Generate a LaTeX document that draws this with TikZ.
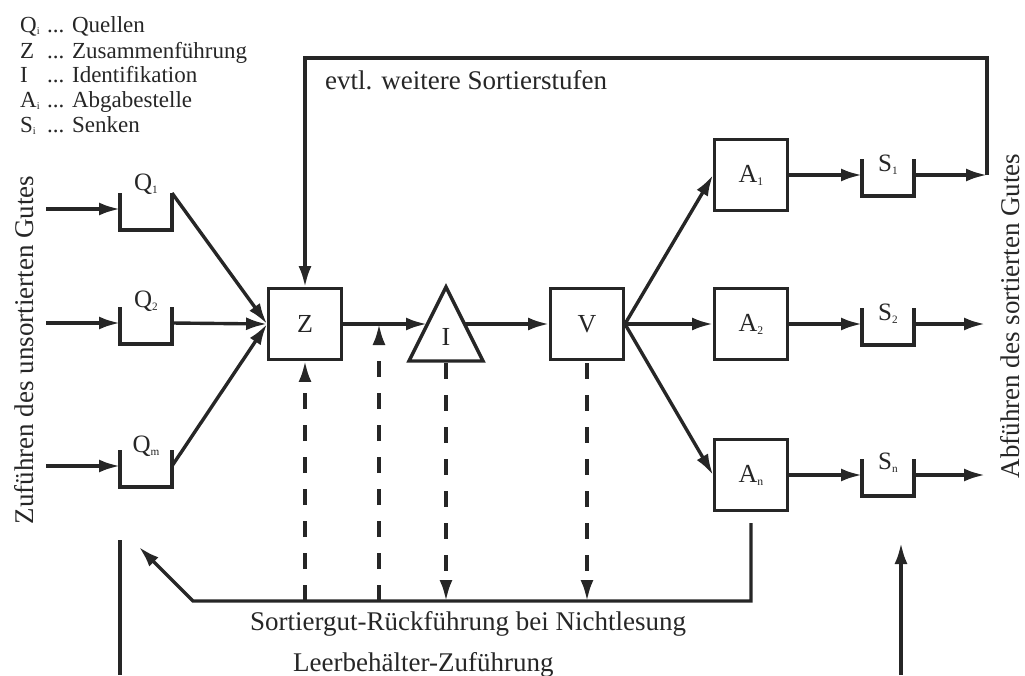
\documentclass[tikz,border=0pt]{standalone}
\usepackage{fontspec}
\setmainfont{Liberation Serif}
\usetikzlibrary{arrows.meta}
\definecolor{ink}{HTML}{262626}
\newcommand{\mainY}{324}
\newcommand{\retY}{601}
\newcommand{\topY}{58}
% small index letters (A_1, Q_i, ...)
\newcommand{\idx}[1]{\raisebox{-0.12em}{\scalebox{0.45}{#1}}}
% open bin: name, left x, top y, label, label offset
\newcommand{\bin}[5]{%
  \draw[line] (#2,#3) -- (#2,#3+37) -- (#2+52,#3+37) -- (#2+52,#3);
  \node[lbl,anchor=base] (#1) at (#2+26,#3+#5) {#4};
  \coordinate (#1-in) at (#2,#3+16);
  \coordinate (#1-out) at (#2+52,#3+16);
  \coordinate (#1-tr) at (#2+52,#3);
}

\begin{document}
\begin{tikzpicture}[x=1pt,y=-1pt,
    line/.style={draw=ink,line width=3.4pt},
    arr/.style={line,-{Latex[length=21pt,width=13pt]}},
    dashline/.style={arr,dash pattern=on 16pt off 16pt},
    box/.style={draw=ink,line width=3.4pt,minimum width=72.5pt,minimum height=70.5pt,
      inner sep=0pt,text=ink,font=\fontsize{26}{30}\selectfont},
    lbl/.style={text=ink,font=\fontsize{25}{28}\selectfont,inner sep=0pt},
    big/.style={text=ink,font=\fontsize{27}{32}\selectfont,inner sep=0pt},
    legend/.style={text=ink,font=\fontsize{23}{25}\selectfont,inner sep=0pt,anchor=base west}]

    \useasboundingbox (0,0) rectangle (1025,675);

    % Legend
    \node[legend] (lgQ) at (20,32) {\makebox[27pt][l]{Q\idx{i}}... Quellen};
    \node[legend] (lgZ) at (20,58) {\makebox[27pt][l]{Z}... Zusammenführung};
    \node[legend] (lgI) at (20,82) {\makebox[27pt][l]{I}... Identifikation};
    \node[legend] (lgA) at (20,107) {\makebox[27pt][l]{A\idx{i}}... Abgabestelle};
    \node[legend] (lgS) at (20,132) {\makebox[27pt][l]{S\idx{i}}... Senken};

    % Side texts
    \node[big,rotate=90] (feed) at (24,350) {Zuführen des unsortierten Gutes};
    \node[big,rotate=90] (drain) at (1010,316) {Abführen des sortierten Gutes};

    % Sources and sinks
    \bin{Q1}{120}{193}{Q\idx{1}}{-3}
    \bin{Q2}{120}{307}{Q\idx{2}}{0}
    \bin{Qm}{120}{450}{Q\idx{m}}{2}
    \bin{S1}{862}{159}{S\idx{1}}{12}
    \bin{S2}{862}{308}{S\idx{2}}{12}
    \bin{Sn}{862}{459}{S\idx{n}}{10}

    % Main chain
    \node[box] (Z) at (305,\mainY) {Z};
    \draw[line,line join=miter] (409,361) -- (446,287) -- (483,361) -- cycle;
    \node[lbl,font=\fontsize{26}{30}\selectfont] (I) at (446,337) {I};
    \coordinate (I-in) at (427,\mainY);
    \coordinate (I-out) at (465,\mainY);
    \coordinate (I-bot) at (446,363);
    \node[box] (V) at (587,\mainY) {V};
    \node[box] (A1) at (751,175) {A\idx{1}};
    \node[box] (A2) at (751,\mainY) {A\idx{2}};
    \node[box] (An) at (751,475) {A\idx{n}};

    % Free ends
    \coordinate (inQ1) at (46,209);
    \coordinate (inQ2) at (46,323);
    \coordinate (inQm) at (46,466);
    \coordinate (fbR) at (987,175);
    \coordinate (fbL) at (305,\topY);
    \coordinate (outS2) at (985,324);
    \coordinate (outSn) at (985,475);

    % Feeding
    \draw[arr] (inQ1) -- (Q1-in);
    \draw[arr] (inQ2) -- (Q2-in);
    \draw[arr] (inQm) -- (Qm-in);
    \draw[arr] (Q1-tr) -- (Z.west);
    \draw[arr] (Q2-out) -- (Z.west);
    \draw[arr] (Qm-out) -- (Z.west);
    \draw[arr] (Z.east) -- (I-in);
    \draw[arr] (I-out) -- (V.west);
    \draw[arr] (V.east) -- (A1.west);
    \draw[arr] (V.east) -- (A2.west);
    \draw[arr] (V.east) -- (An.west);
    \draw[arr] (A1.east) -- (S1-in);
    \draw[arr] (A2.east) -- (S2-in);
    \draw[arr] (An.east) -- (Sn-in);
    \draw[arr] (S1-out) -- (fbR);
    \draw[arr] (S2-out) -- (outS2);
    \draw[arr] (Sn-out) -- (outSn);

    % further sorting stages
    \draw[arr] (fbR) |- (fbL) -- (Z.north);
    \node[big,anchor=base west] (stages) at (325,89) {evtl. weitere Sortierstufen};

    % Return on no-read
    \coordinate (retA) at (751,523);
    \coordinate (retL) at (193,\retY);
    \coordinate (retTip) at (139,547);
    \draw[arr] (retA) |- (retL) -- (retTip);
    \coordinate (dZ) at (305,\retY);
    \coordinate (dM) at (379,\retY);
    \coordinate (dMtop) at (379,\mainY);
    \coordinate (dI) at (446,\retY);
    \coordinate (dVtop) at (587,363);
    \coordinate (dV) at (587,\retY);
    \draw[dashline] (dZ) -- (Z.south);
    \draw[dashline] (dM) -- (dMtop);
    \draw[dashline] (I-bot) -- (dI);
    \draw[dashline] (dVtop) -- (dV);
    \node[big,anchor=base west] (ret) at (250,630) {Sortiergut-Rückführung bei Nichtlesung};

    % Empty bins
    \coordinate (lb1) at (120,540);
    \coordinate (lb2) at (120,675);
    \coordinate (rb1) at (901,675);
    \coordinate (rb2) at (901,543);
    \draw[line] (lb1) -- (lb2);
    \draw[arr] (rb1) -- (rb2);
    \node[big,anchor=base west] (empty) at (293,671) {Leerbehälter-Zuführung};
\end{tikzpicture}
\end{document}
